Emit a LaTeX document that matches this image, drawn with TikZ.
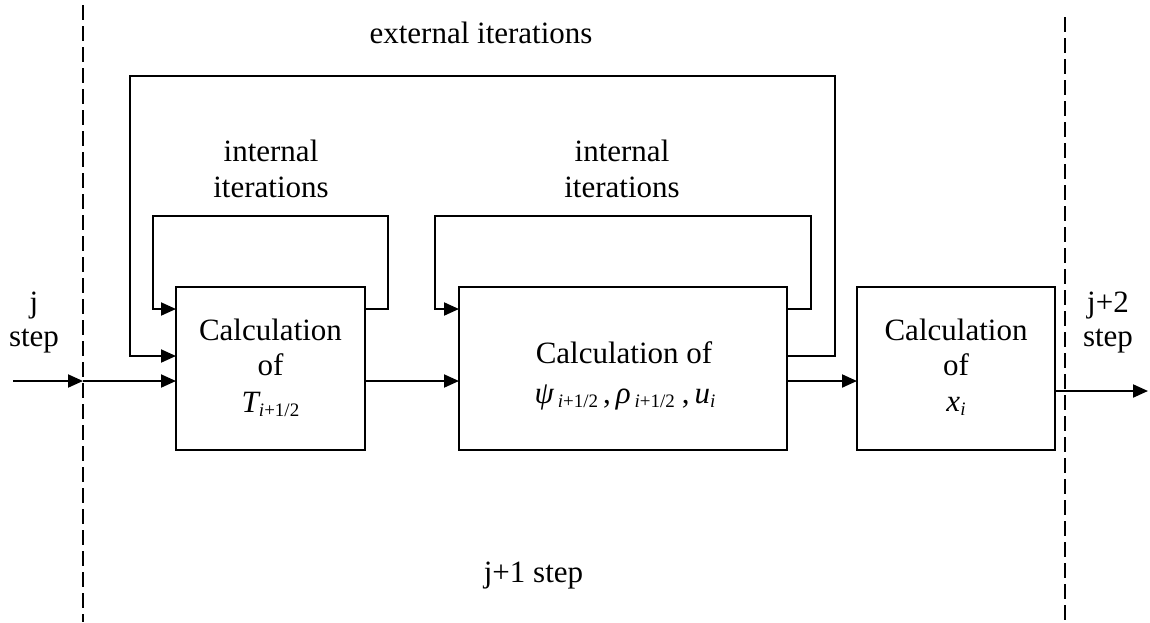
\documentclass[tikz,border=0pt]{standalone}
\usepackage{fontspec}
\setmainfont{Liberation Serif}
\usetikzlibrary{arrows.meta}
\newcommand\mysub[1]{\raisebox{-4pt}{\fontsize{19}{19}\selectfont #1}}
\begin{document}
\begin{tikzpicture}[x=1pt,y=-1pt,
  every node/.style={font=\fontsize{31}{37}\selectfont, inner sep=0pt, outer sep=0pt},
  blk/.style={draw, line width=2pt, anchor=north west},
  txt/.style={anchor=base},
  conn/.style={line width=2pt},
  arr/.style={conn, -{Triangle[length=15pt,width=13pt]}},
  sepline/.style={line width=1.5pt, dash pattern=on 15pt off 6pt}]
\useasboundingbox (0,0) rectangle (1150,622);

% separators
\coordinate (s1a) at (83,5);
\coordinate (s1b) at (83,622);
\coordinate (s2a) at (1065,17);
\coordinate (s2b) at (1065,622);
\draw[sepline] (s1a) -- (s1b);
\draw[sepline] (s2a) -- (s2b);

% blocks
\node[blk, minimum width=189pt, minimum height=163pt] (b1) at (176,287) {};
\node[blk, minimum width=328pt, minimum height=163pt] (b2) at (459,287) {};
\node[blk, minimum width=198pt, minimum height=163pt] (b3) at (857,287) {};

% block texts
\node[txt] (t1a) at (270.5,340) {Calculation};
\node[txt] (t1b) at (270.5,375) {of};
\node[txt] (t1c) at (270.5,412) {{\itshape T}\mysub{\itshape i\/\upshape+1/2}};

\node[txt] (t2a) at (624,363) {Calculation of};
\node[txt] (t2b) at (625,403) {{\itshape ψ}\hspace{4pt}\mysub{\itshape i\/\upshape+1/2}\hspace{5pt},\hspace{5pt}{\itshape ρ}\hspace{4pt}\mysub{\itshape i\/\upshape+1/2}\hspace{7pt},\hspace{5pt}{\itshape u}\mysub{\itshape i}};

\node[txt] (t3a) at (956,340) {Calculation};
\node[txt] (t3b) at (956,375) {of};
\node[txt] (t3c) at (956,411) {{\itshape x}\mysub{\itshape i}};

% labels
\node[txt] (ext) at (481,43) {external iterations};
\node[txt] (i1a) at (271,161) {internal};
\node[txt] (i1b) at (271,197) {iterations};
\node[txt] (i2a) at (622,161) {internal};
\node[txt] (i2b) at (622,197) {iterations};
\node[txt] (ja) at (34,312) {j};
\node[txt] (jb) at (34,346) {step};
\node[txt] (kja) at (1108,312) {j+2};
\node[txt] (kjb) at (1108,346) {step};
\node[txt] (j1) at (533.5,582) {j+1 step};

% rows
\coordinate (rloop) at (0,309);
\coordinate (rext) at (0,356);
\coordinate (rmain) at (0,381);
\coordinate (in) at (13,381);
\coordinate (d1) at (83,381);
\coordinate (out) at (1148,391);

% main flow
\draw[arr] (in) -- (d1);
\draw[arr] (d1) -- (b1.west |- rmain);
\draw[arr] (b1.east |- rmain) -- (b2.west |- rmain);
\draw[arr] (b2.east |- rmain) -- (b3.west |- rmain);
\draw[arr] (b3.east |- out) -- (out);

% internal loops
\draw[arr] (b1.east |- rloop) -- (388,309) -- (388,216) -- (153,216) -- (153,309) -- (b1.west |- rloop);
\draw[arr] (b2.east |- rloop) -- (811,309) -- (811,216) -- (435,216) -- (435,309) -- (b2.west |- rloop);

% external loop
\draw[arr] (b2.east |- rext) -- (835,356) -- (835,76) -- (130,76) -- (130,356) -- (b1.west |- rext);
\end{tikzpicture}
\end{document}
